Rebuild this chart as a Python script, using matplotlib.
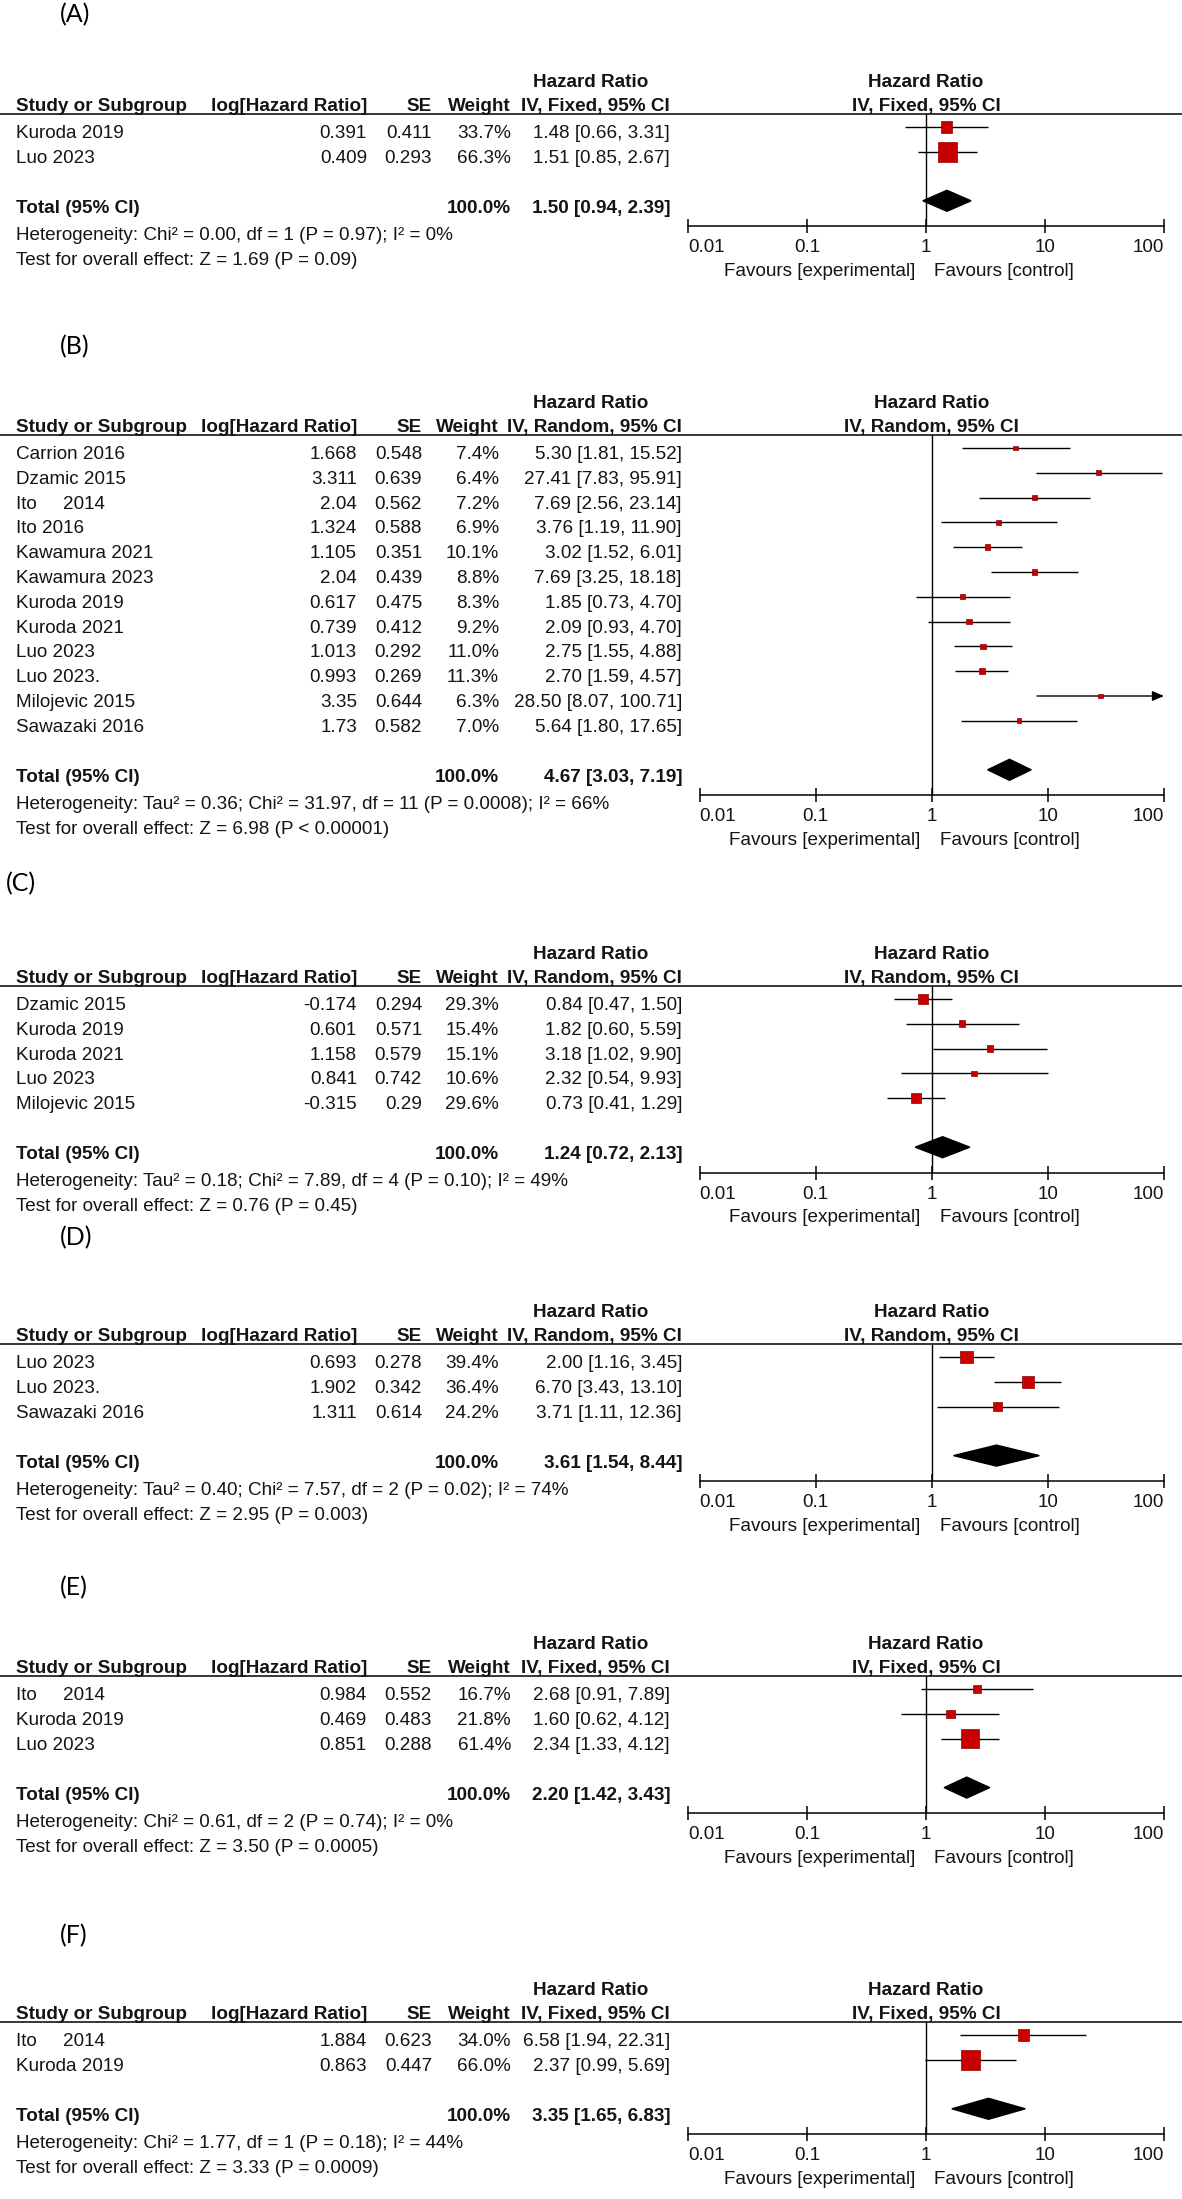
import matplotlib
matplotlib.use('Agg')
import numpy as np
import matplotlib.pyplot as plt
from matplotlib.lines import Line2D
from matplotlib.ticker import NullLocator

W, H = 1182, 2199
plt.rcParams['font.family'] = ['Liberation Sans', 'DejaVu Sans']

# ---- data ----
# (A)
a_names = ['Kuroda 2019', 'Luo 2023']
a_loghr = [0.391, 0.409]
a_se = [0.411, 0.293]
a_weight = [33.7, 66.3]
a_hr = [1.48, 1.51]
a_lo = [0.66, 0.85]
a_hi = [3.31, 2.67]
a_total = [1.50, 0.94, 2.39]
a_het = 'Heterogeneity: Chi² = 0.00, df = 1 (P = 0.97); I² = 0%'
a_test = 'Test for overall effect: Z = 1.69 (P = 0.09)'

# (B)
b_names = ['Carrion 2016', 'Dzamic 2015', 'Ito     2014', 'Ito 2016', 'Kawamura 2021',
           'Kawamura 2023', 'Kuroda 2019', 'Kuroda 2021', 'Luo 2023', 'Luo 2023.',
           'Milojevic 2015', 'Sawazaki 2016']
b_loghr = [1.668, 3.311, 2.04, 1.324, 1.105, 2.04, 0.617, 0.739, 1.013, 0.993, 3.35, 1.73]
b_se = [0.548, 0.639, 0.562, 0.588, 0.351, 0.439, 0.475, 0.412, 0.292, 0.269, 0.644, 0.582]
b_weight = [7.4, 6.4, 7.2, 6.9, 10.1, 8.8, 8.3, 9.2, 11.0, 11.3, 6.3, 7.0]
b_hr = [5.30, 27.41, 7.69, 3.76, 3.02, 7.69, 1.85, 2.09, 2.75, 2.70, 28.50, 5.64]
b_lo = [1.81, 7.83, 2.56, 1.19, 1.52, 3.25, 0.73, 0.93, 1.55, 1.59, 8.07, 1.80]
b_hi = [15.52, 95.91, 23.14, 11.90, 6.01, 18.18, 4.70, 4.70, 4.88, 4.57, 100.71, 17.65]
b_total = [4.67, 3.03, 7.19]
b_het = 'Heterogeneity: Tau² = 0.36; Chi² = 31.97, df = 11 (P = 0.0008); I² = 66%'
b_test = 'Test for overall effect: Z = 6.98 (P < 0.00001)'

# (C)
c_names = ['Dzamic 2015', 'Kuroda 2019', 'Kuroda 2021', 'Luo 2023', 'Milojevic 2015']
c_loghr = [-0.174, 0.601, 1.158, 0.841, -0.315]
c_se = [0.294, 0.571, 0.579, 0.742, 0.29]
c_weight = [29.3, 15.4, 15.1, 10.6, 29.6]
c_hr = [0.84, 1.82, 3.18, 2.32, 0.73]
c_lo = [0.47, 0.60, 1.02, 0.54, 0.41]
c_hi = [1.50, 5.59, 9.90, 9.93, 1.29]
c_total = [1.24, 0.72, 2.13]
c_het = 'Heterogeneity: Tau² = 0.18; Chi² = 7.89, df = 4 (P = 0.10); I² = 49%'
c_test = 'Test for overall effect: Z = 0.76 (P = 0.45)'

# (D)
d_names = ['Luo 2023', 'Luo 2023.', 'Sawazaki 2016']
d_loghr = [0.693, 1.902, 1.311]
d_se = [0.278, 0.342, 0.614]
d_weight = [39.4, 36.4, 24.2]
d_hr = [2.00, 6.70, 3.71]
d_lo = [1.16, 3.43, 1.11]
d_hi = [3.45, 13.10, 12.36]
d_total = [3.61, 1.54, 8.44]
d_het = 'Heterogeneity: Tau² = 0.40; Chi² = 7.57, df = 2 (P = 0.02); I² = 74%'
d_test = 'Test for overall effect: Z = 2.95 (P = 0.003)'

# (E)
e_names = ['Ito     2014', 'Kuroda 2019', 'Luo 2023']
e_loghr = [0.984, 0.469, 0.851]
e_se = [0.552, 0.483, 0.288]
e_weight = [16.7, 21.8, 61.4]
e_hr = [2.68, 1.60, 2.34]
e_lo = [0.91, 0.62, 1.33]
e_hi = [7.89, 4.12, 4.12]
e_total = [2.20, 1.42, 3.43]
e_het = 'Heterogeneity: Chi² = 0.61, df = 2 (P = 0.74); I² = 0%'
e_test = 'Test for overall effect: Z = 3.50 (P = 0.0005)'

# (F)
f_names = ['Ito     2014', 'Kuroda 2019']
f_loghr = [1.884, 0.863]
f_se = [0.623, 0.447]
f_weight = [34.0, 66.0]
f_hr = [6.58, 2.37]
f_lo = [1.94, 0.99]
f_hi = [22.31, 5.69]
f_total = [3.35, 1.65, 6.83]
f_het = 'Heterogeneity: Chi² = 1.77, df = 1 (P = 0.18); I² = 44%'
f_test = 'Test for overall effect: Z = 3.33 (P = 0.0009)'

tick_vals = [0.01, 0.1, 1, 10, 100]
tick_labels = ['0.01', '0.1', '1', '10', '100']

# ---- layout (pixels) ----
FS = 13.6
TXT = '#141414'
RED = '#c80000'
ROW0, STEP, TOT_GAP, AX_GAP = 13, 24.8, 49, 25.5
AX_RIGHT = 1164
COLS = {'Fixed': dict(log=367, se=432, wt=511, ci=670, ax0=688),
        'Random': dict(log=357, se=422, wt=499, ci=682, ax0=699.5)}

fig = plt.figure(figsize=(W / 100, H / 100), dpi=100)


def fx(x):
    return x / W


def fy(y):
    return 1 - y / H


def txt(x, y, s, ha='left', bold=False):
    fig.text(fx(x), fy(y), s, ha=ha, va='baseline', fontsize=FS, color=TXT,
             fontweight='bold' if bold else 'normal')


def draw_panel(label, lab_x, lab_y, L, method, names, loghr, se, weight, hr, lo, hi,
               total, het, test):
    c = COLS[method]
    n = len(names)
    rows = ROW0 + STEP * np.arange(n)
    ty = rows[-1] + TOT_GAP
    axis_y = L + ty + AX_GAP

    fig.text(fx(lab_x), fy(lab_y), label, fontsize=18, family='Lato', color='k',
             ha='left', va='center')

    # table headers
    txt(591, L - 27, 'Hazard Ratio', ha='center', bold=True)
    txt(16, L - 3, 'Study or Subgroup', bold=True)
    txt(c['log'], L - 3, 'log[Hazard Ratio]', ha='right', bold=True)
    txt(c['se'], L - 3, 'SE', ha='right', bold=True)
    txt(c['wt'], L - 3, 'Weight', ha='right', bold=True)
    txt(c['ci'], L - 3, 'IV, %s, 95%% CI' % method, ha='right', bold=True)
    fig.add_artist(Line2D([0, 1], [fy(L), fy(L)], transform=fig.transFigure,
                          color='k', lw=1.1))

    for i in range(n):
        y = L + rows[i] + 11
        txt(16, y, names[i])
        txt(c['log'], y, '%g' % loghr[i], ha='right')
        txt(c['se'], y, '%g' % se[i], ha='right')
        txt(c['wt'], y, '%.1f%%' % weight[i], ha='right')
        txt(c['ci'], y, '%.2f [%.2f, %.2f]' % (hr[i], lo[i], hi[i]), ha='right')

    txt(16, L + ty + 12, 'Total (95% CI)', bold=True)
    txt(c['wt'], L + ty + 12, '100.0%', ha='right', bold=True)
    txt(c['ci'], L + ty + 12, '%.2f [%.2f, %.2f]' % tuple(total), ha='right', bold=True)
    txt(16, L + ty + 39, het)
    txt(16, L + ty + 64, test)

    # forest part
    ax = fig.add_axes([fx(c['ax0']), fy(axis_y), fx(AX_RIGHT - c['ax0']), (axis_y - L) / H])
    ax.patch.set_visible(False)
    ax.set_xscale('log')
    ax.set_xlim(tick_vals[0], tick_vals[-1])
    ax.set_ylim(axis_y - L, 0)
    for s in ('top', 'left', 'right'):
        ax.spines[s].set_visible(False)
    ax.spines['bottom'].set_linewidth(1.1)
    ax.set_yticks([])
    ax.set_xticks(tick_vals)
    ax.set_xticklabels(tick_labels)
    ax.xaxis.set_minor_locator(NullLocator())
    ax.tick_params(axis='x', direction='inout', length=9.4, width=1.1, pad=14,
                   labelsize=FS, labelcolor=TXT)
    labs = ax.get_xticklabels()
    for t in labs:
        t.set_va('baseline')
    labs[0].set_ha('left')
    labs[-1].set_ha('right')

    ax.axvline(1, color='k', lw=1, zorder=1)

    hi_arr = np.array(hi)
    xmax = tick_vals[-1]
    inside = hi_arr <= xmax
    ax.hlines(rows[inside], np.array(lo)[inside], hi_arr[inside], color='k', lw=1, zorder=2)
    for i in np.where(~inside)[0]:
        ax.annotate('', xy=(xmax, rows[i]), xytext=(lo[i], rows[i]),
                    arrowprops=dict(arrowstyle='-|>,head_length=0.7,head_width=0.3',
                                    color='k', lw=1, shrinkA=0, shrinkB=0),
                    annotation_clip=False)
    side = 3 + 0.25 * np.array(weight)
    ax.scatter(hr, rows, marker='s', s=(side * 0.72) ** 2, c=RED, edgecolors='#900000',
               linewidths=0.5, zorder=3, clip_on=False)

    est, tlo, thi = total
    ax.fill([tlo, est, thi, est], [ty, ty - 10.5, ty, ty + 10.5], color='k', zorder=3)

    hdr = 'IV, %s, 95%% CI' % method
    ax.annotate('Hazard Ratio', xy=(1, 1), xycoords=('data', 'axes fraction'),
                xytext=(0, 27), textcoords='offset pixels', ha='center', va='baseline',
                fontsize=FS, fontweight='bold', color=TXT, annotation_clip=False)
    ax.annotate(hdr, xy=(1, 1), xycoords=('data', 'axes fraction'),
                xytext=(0, 3), textcoords='offset pixels', ha='center', va='baseline',
                fontsize=FS, fontweight='bold', color=TXT, annotation_clip=False)
    ax.annotate('Favours [experimental]', xy=(1, 0), xycoords=('data', 'axes fraction'),
                xytext=(-11, -49.5), textcoords='offset pixels', ha='right', va='baseline',
                fontsize=FS, color=TXT, annotation_clip=False)
    ax.annotate('Favours [control]', xy=(1, 0), xycoords=('data', 'axes fraction'),
                xytext=(8, -49.5), textcoords='offset pixels', ha='left', va='baseline',
                fontsize=FS, color=TXT, annotation_clip=False)


draw_panel('(A)', 60, 15, 114, 'Fixed', a_names, a_loghr, a_se, a_weight, a_hr, a_lo, a_hi,
           a_total, a_het, a_test)
draw_panel('(B)', 60, 347, 435, 'Random', b_names, b_loghr, b_se, b_weight, b_hr, b_lo, b_hi,
           b_total, b_het, b_test)
draw_panel('(C)', 6, 884, 986, 'Random', c_names, c_loghr, c_se, c_weight, c_hr, c_lo, c_hi,
           c_total, c_het, c_test)
draw_panel('(D)', 60, 1238, 1344, 'Random', d_names, d_loghr, d_se, d_weight, d_hr, d_lo, d_hi,
           d_total, d_het, d_test)
draw_panel('(E)', 60, 1588, 1676, 'Fixed', e_names, e_loghr, e_se, e_weight, e_hr, e_lo, e_hi,
           e_total, e_het, e_test)
draw_panel('(F)', 60, 1936, 2022, 'Fixed', f_names, f_loghr, f_se, f_weight, f_hr, f_lo, f_hi,
           f_total, f_het, f_test)

fig.savefig('out.png', dpi=100, facecolor='white')
